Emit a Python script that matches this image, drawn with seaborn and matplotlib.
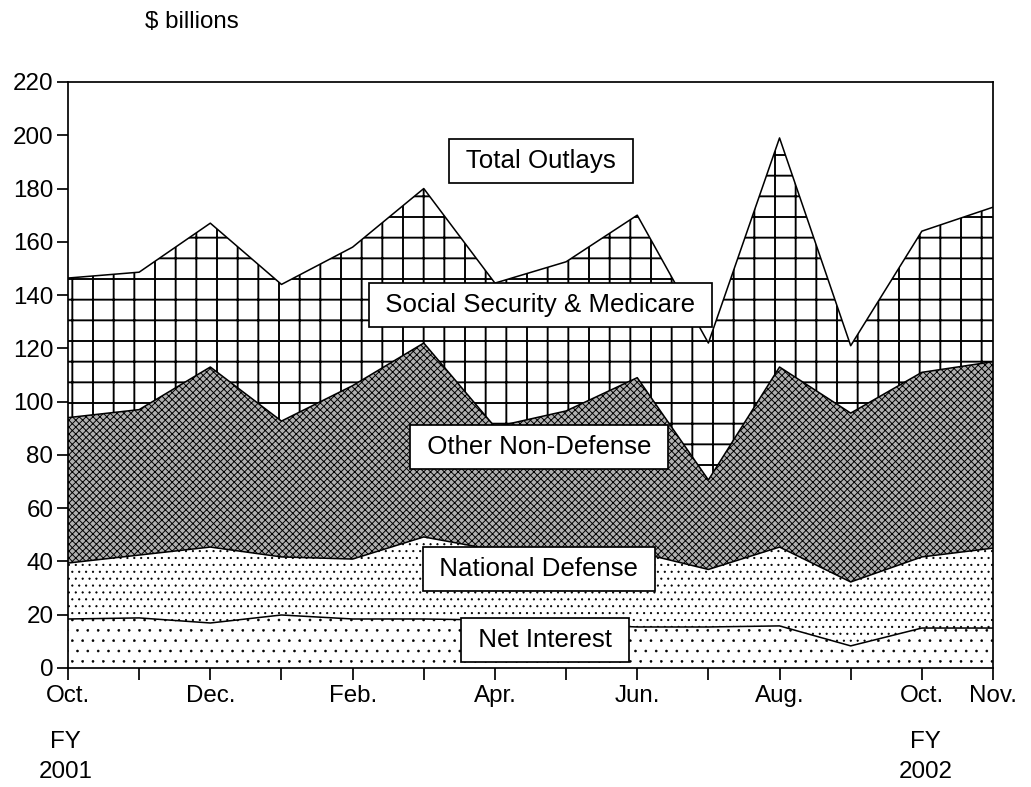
import numpy as np
import pandas as pd
import matplotlib.pyplot as plt
import seaborn as sns

# ==============================================================
# data (monthly outlays, $ billions, FY2001 Oct -> FY2002 Nov)
# ==============================================================
months = ['Oct.', 'Nov.', 'Dec.', 'Jan.', 'Feb.', 'Mar.', 'Apr.',
          'May', 'Jun.', 'Jul.', 'Aug.', 'Sep.', 'Oct.', 'Nov.']
tick_labels = ['Oct.', '', 'Dec.', '', 'Feb.', '', 'Apr.',
               '', 'Jun.', '', 'Aug.', '', 'Oct.', 'Nov.']

net_interest = [18.4, 18.8, 16.9, 19.9, 18.4, 18.4, 18.0,
                16.5, 15.4, 15.4, 15.8, 8.3, 15.0, 15.0]
national_defense = [21.0, 23.6, 28.5, 21.8, 22.5, 30.8, 26.3,
                    27.5, 28.1, 21.6, 29.6, 24.0, 26.7, 30.0]
other_non_defense = [54.6, 54.6, 67.6, 51.0, 65.1, 72.8, 46.2,
                     52.5, 65.5, 33.6, 67.6, 63.4, 69.3, 70.0]
social_security_medicare = [52.4, 51.6, 54.0, 51.3, 52.0, 58.0, 54.0,
                            56.0, 61.0, 51.4, 86.0, 25.3, 53.0, 58.0]

layer_names = ['Net Interest', 'National Defense', 'Other Non-Defense',
               'Social Security & Medicare']
layer_hatches = ['..', '...', 'xxxxxx', '+']
layer_hatch_lw = [0.3, 0.45, 0.55, 1.1]
layer_faces = ['white', 'white', '#b0b0b0', 'white']

# ==============================================================
# style
# ==============================================================
sns.set_style('ticks')
plt.rcParams['font.family'] = ['Liberation Sans', 'DejaVu Sans']
plt.rcParams['text.color'] = 'black'
plt.rcParams['xtick.color'] = 'black'
plt.rcParams['ytick.color'] = 'black'
plt.rcParams['hatch.color'] = 'black'

df = pd.DataFrame({
    'idx': np.arange(len(months)),
    'Net Interest': net_interest,
    'National Defense': national_defense,
    'Other Non-Defense': other_non_defense,
    'Social Security & Medicare': social_security_medicare,
})
levels = df[layer_names].cumsum(axis=1)

DPI = 124
fig = plt.figure(figsize=(1031 / DPI, 787 / DPI), dpi=DPI)
ax = fig.add_axes([68 / 1031, 1 - 668 / 787, (993 - 68) / 1031, (668 - 82) / 787])

bottom = np.zeros(len(df))
for name, hatch, hlw, face in zip(layer_names, layer_hatches, layer_hatch_lw, layer_faces):
    top = levels[name].values
    with plt.rc_context({'hatch.linewidth': hlw}):
        poly = ax.fill_between(df['idx'], bottom, top, facecolor=face, hatch=hatch,
                               edgecolor='black', linewidth=0, zorder=1)
    if hasattr(poly, 'set_hatch_linewidth'):
        poly.set_hatch_linewidth(hlw)
    bottom = top

# boundary lines of each stacked layer
long = levels.assign(idx=df['idx']).melt(id_vars='idx', var_name='layer', value_name='level')
sns.lineplot(data=long, x='idx', y='level', units='layer', estimator=None,
             color='black', linewidth=0.9, ax=ax, zorder=2)

ax.set_xlim(0, len(months) - 1)
ax.set_ylim(0, 220)
ax.set_xticks(df['idx'])
ax.set_xticklabels(tick_labels)
ax.set_yticks(np.arange(0, 221, 20))
ax.set_xlabel('')
ax.set_ylabel('')
ax.tick_params(axis='x', direction='out', length=7, width=1, labelsize=14, pad=3)
ax.tick_params(axis='y', direction='out', length=6.5, width=1, labelsize=14, pad=2)
for s in ax.spines.values():
    s.set_linewidth(1)
    s.set_color('black')

# ==============================================================
# labels in boxes
# ==============================================================
box = dict(boxstyle='square,pad=0.38', facecolor='white', edgecolor='black', linewidth=1)
for txt, x, y in [('Total Outlays', 6.65, 190.3),
                  ('Social Security & Medicare', 6.64, 136.3),
                  ('Other Non-Defense', 6.62, 83.0),
                  ('National Defense', 6.62, 37.2),
                  ('Net Interest', 6.7, 10.5)]:
    ax.text(x, y, f' {txt} ', ha='center', va='center', fontsize=15, bbox=box, zorder=5)

trans = ax.get_xaxis_transform()
for x, yr in [(-0.03, '2001'), (12.05, '2002')]:
    ax.text(x, -0.126, 'FY', ha='center', va='center', fontsize=14, transform=trans)
    ax.text(x, -0.178, yr, ha='center', va='center', fontsize=14, transform=trans)

fig.text(192 / 1031, 1 - 22 / 787, '$ billions', ha='center', va='center', fontsize=14)

fig.savefig('out.png', dpi=DPI)
